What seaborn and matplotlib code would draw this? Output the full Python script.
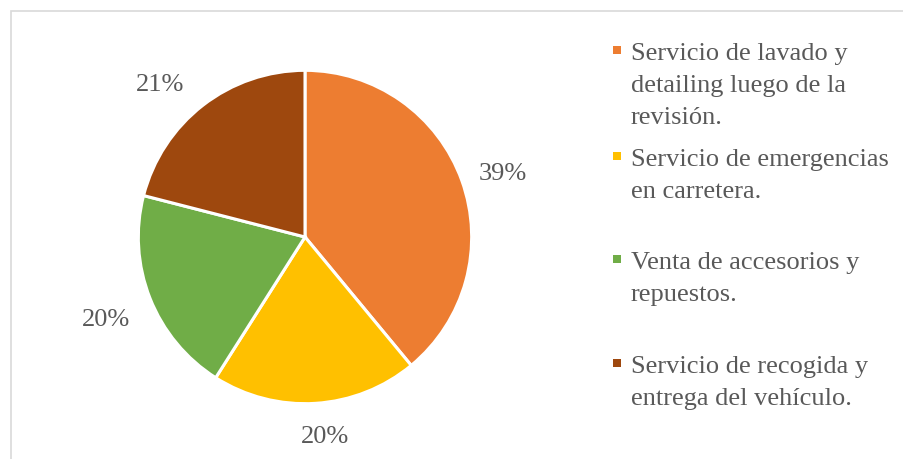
import matplotlib
matplotlib.use("Agg")
import numpy as np
import matplotlib.pyplot as plt
from matplotlib.patches import Rectangle
import seaborn as sns

# Service shares (percent)
categories = [
    "Servicio de lavado y\ndetailing luego de la\nrevisión.",
    "Servicio de emergencias\nen carretera.",
    "Venta de accesorios y\nrepuestos.",
    "Servicio de recogida y\nentrega del vehículo.",
]
shares = [39, 20, 20, 21]
slice_colors = ["#ED7D31", "#FFC000", "#70AD47", "#9E480E"]

# data-label placement: radial distance and angular nudge per slice
label_dist = [1.25, 1.19, 1.29, 1.27]
label_nudge_deg = [-1.6, 2.2, 0.5, 5.5]

sns.set_theme(style="white")
plt.rcParams["font.family"] = ["Liberation Serif", "DejaVu Serif"]

W, H, DPI = 904, 459, 100
fig = plt.figure(figsize=(W / DPI, H / DPI), dpi=DPI)
fig.patch.set_facecolor("white")

text_color = "#595959"
fsize = 19

# chart-area frame (left and top edges visible)
frame = Rectangle((11 / W, -0.05), 1.2, (H - 11) / H + 0.05,
                  transform=fig.transFigure, fill=False,
                  edgecolor="#D9D9D9", linewidth=1.2)
fig.patches.append(frame)

# pie axes: square, centred on the pie
cx, cy, half = 305, 237, 200
ax = fig.add_axes([(cx - half) / W, (H - cy - half) / H, 2 * half / W, 2 * half / H])
palette = sns.color_palette(slice_colors)
wedges, _, autotexts = ax.pie(
    shares,
    colors=palette,
    startangle=90,
    counterclock=False,
    autopct=lambda p: f"{p:.0f}%",
    pctdistance=1.25,
    wedgeprops=dict(edgecolor="white", linewidth=2.2),
    textprops=dict(color=text_color, fontsize=fsize),
)
ax.set_xlim(-1.2, 1.2)
ax.set_ylim(-1.2, 1.2)
ax.set_aspect("equal")
ax.axis("off")

# move percentage labels to their outside positions
units_per_px = 2.4 / (2 * half)
for w, t, d, nudge in zip(wedges, autotexts, label_dist, label_nudge_deg):
    mid = np.deg2rad((w.theta1 + w.theta2) / 2 + nudge)
    x, y = d * np.cos(mid), d * np.sin(mid)
    t.set_position((x, y - 8.5 * units_per_px))
    t.set_ha("center")
    t.set_va("baseline")

# legend drawn entry by entry
entry_baselines = [60, 166, 269, 373]
line_step = 32
marker_x, text_x = 617, 631
for label, color, base in zip(categories, palette, entry_baselines):
    fig.patches.append(Rectangle(((marker_x - 4) / W, (H - (base - 6)) / H),
                                 8 / W, 8 / H, transform=fig.transFigure,
                                 facecolor=color, edgecolor="none"))
    for i, line in enumerate(label.split("\n")):
        fig.text(text_x / W, (H - (base + i * line_step)) / H, line,
                 color=text_color, fontsize=fsize, ha="left", va="baseline")

fig.savefig("out.png", dpi=DPI, facecolor="white")
